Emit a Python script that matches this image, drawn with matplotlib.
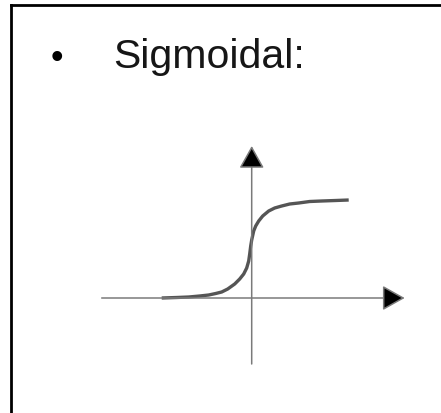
import numpy as np
import matplotlib.pyplot as plt
from matplotlib.lines import Line2D

# curve points (x, y in pixels relative to the origin)
curve_x = [-90, -75, -63, -52, -43, -36, -30, -24, -17, -12, -8, -5, -3, -2, -1,
           0, 2, 4, 7, 11, 17, 23, 30, 38, 47, 58, 70, 84, 97]
curve_y = [0, 0.5, 1, 2, 3, 4.5, 6, 9, 14, 19, 24, 30, 37, 44, 52,
           58, 67, 72, 77, 82, 87, 90, 92, 94, 95, 96.5, 97, 97.5, 98]

# axis extents
x_axis = [-150, 153]
y_axis = [-66, 152]

title_text = "Sigmoidal:"
bullet = "\u2022"

plt.rcParams['font.family'] = ['Liberation Sans', 'DejaVu Sans']

fig = plt.figure(figsize=(4.41, 4.14), dpi=100)
ax = fig.add_axes([0, 0, 1, 1])
ax.set_xlim(-251.7, 441 - 251.7)
ax.set_ylim(299 - 414, 299)
ax.axis("off")

# axes with arrow heads
for start, end in [((x_axis[0], 0), (x_axis[1], 0)), ((0, y_axis[0]), (0, y_axis[1]))]:
    ax.annotate("", xy=end, xytext=start,
                arrowprops=dict(arrowstyle="-|>,head_length=0.5,head_width=0.28",
                                lw=1.1, mutation_scale=28, shrinkA=0, shrinkB=0,
                                fc="black", ec="#7a7a7a"))

# sigmoid curve
ax.plot(curve_x, curve_y, color="#555555", lw=2.4, solid_capstyle="butt",
        solid_joinstyle="round")

# title with bullet
ax.text(-195, 231, bullet, fontsize=26, ha="center", va="baseline", color="black")
ax.text(-138.7, 231, title_text, fontsize=29.5, ha="left", va="baseline", color="#161616")

# slide border (left and top only are visible)
W, H = 441, 414
fig.add_artist(Line2D([11 / W, 11 / W], [0, 1 - 6 / H], color="black", lw=2, transform=fig.transFigure))
fig.add_artist(Line2D([11 / W, 1], [1 - 6 / H, 1 - 6 / H], color="black", lw=2, transform=fig.transFigure))

fig.savefig("out.png", dpi=100)
